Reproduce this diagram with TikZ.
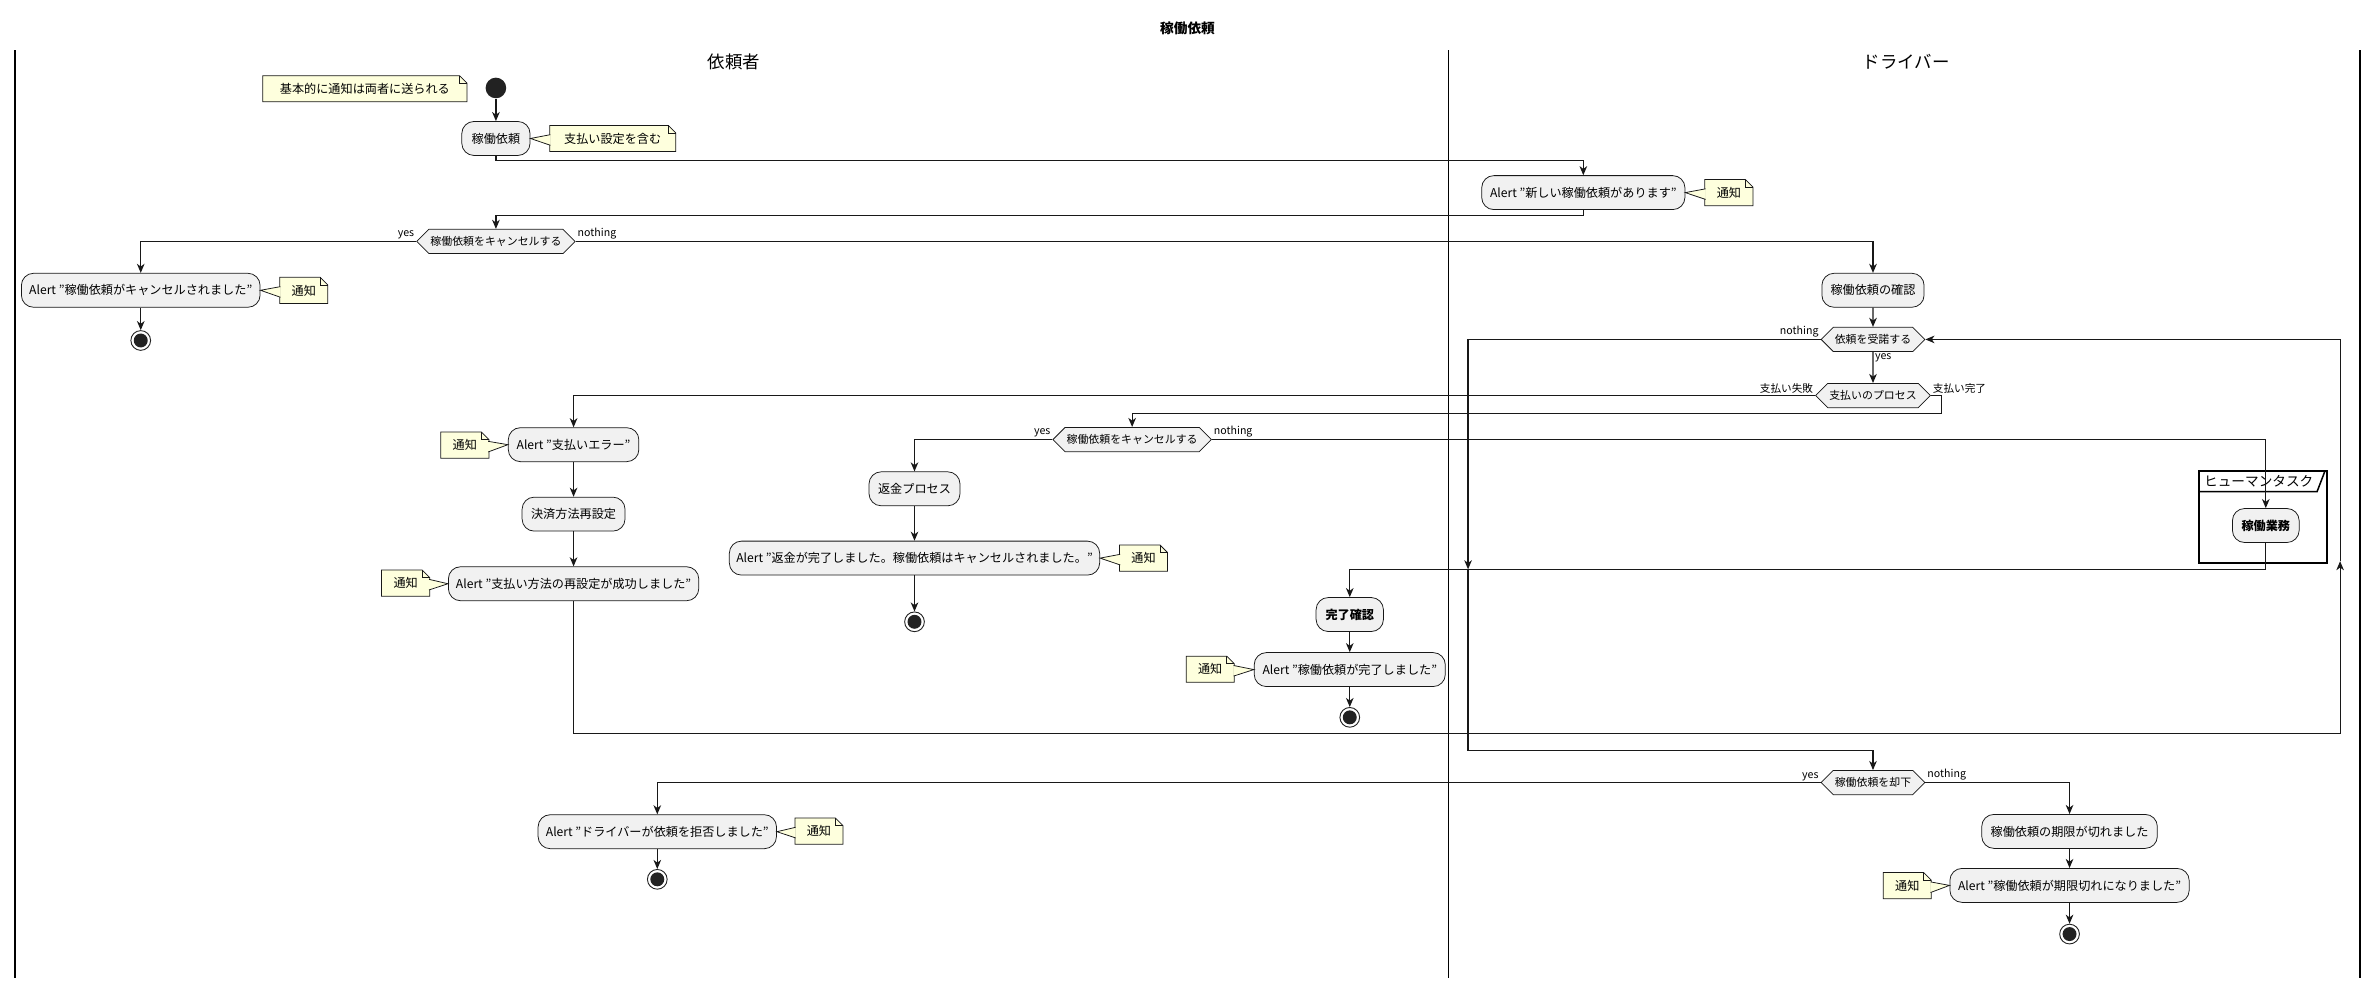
\documentclass[tikz,border=0pt]{standalone}
\usepackage{fontspec}
\setmainfont{Noto Sans CJK JP}
\usetikzlibrary{arrows.meta,shapes.symbols}

\definecolor{actfill}{HTML}{F1F1F1}
\definecolor{actline}{HTML}{181818}
\definecolor{notefill}{HTML}{FEFFDD}
\definecolor{dotfill}{HTML}{222222}

\tikzset{every picture/.style={line width=0.75pt}}
\tikzset{
  act/.style={rectangle, rounded corners=8pt, draw=actline, line width=0.5pt, fill=actfill, minimum height=22.4pt, inner xsep=4pt, font=\fontsize{8}{9}\selectfont},
  actbold/.style={act, font=\bfseries\fontsize{8}{9}\selectfont},
  choice/.style={signal, signal to=east and west, draw=actline, line width=0.5pt, fill=actfill, minimum height=16pt, inner xsep=1pt, inner ysep=1pt, font=\fontsize{7.2}{8}\selectfont},
  note/.style={inner xsep=5pt, minimum height=16.5pt, font=\fontsize{8}{9}\selectfont,
    append after command={\pgfextra{\filldraw[draw=actline, fill=notefill, line width=0.5pt]
      (\tikzlastnode.north west) -- ([xshift=-5pt]\tikzlastnode.north east) -- ([yshift=5pt]\tikzlastnode.north east) -- (\tikzlastnode.south east) -- (\tikzlastnode.south west) -- cycle;
      \draw[actline, line width=0.5pt] ([xshift=-5pt]\tikzlastnode.north east) |- ([yshift=5pt]\tikzlastnode.north east);}}},
  wedge/.style={draw=actline, fill=notefill, line width=0.5pt},
  flow/.style={draw=actline, line width=0.8pt, -{Stealth[length=6pt, width=5pt, inset=1.8pt]}},
  lbl/.style={inner sep=1pt, font=\fontsize{7}{8}\selectfont},
  startdot/.style={circle, fill=dotfill, minimum size=13.6pt, inner sep=0pt},
  stopdot/.style={circle, draw=dotfill, line width=0.6pt, minimum size=13pt, inner sep=0pt, path picture={\fill[dotfill] (path picture bounding box.center) circle (4.6pt);}},
}

\begin{document}
\begin{tikzpicture}[x=1pt,y=1pt,yscale=-1]
\useasboundingbox (0,0) rectangle (1568,651);

% Text Node
\draw (783,19) node (t0) [font=\bfseries\fontsize{9}{10}\selectfont] {稼働依頼};

%Straight Lines
\draw [line width=1pt] (10,33) -- (10,645) ;
%Straight Lines
\draw [line width=1pt] (955,33) -- (955,645) ;
%Straight Lines
\draw [line width=1pt] (1556,33) -- (1556,645) ;

% Text Node
\draw (484,41) node (h1) [font=\fontsize{11.5}{12}\selectfont] {依頼者};
% Text Node
\draw (1257,41) node (h2) [font=\fontsize{11.5}{12}\selectfont] {ドライバー};

%Shape: Partition
\draw [line width=1.2pt] (1450,310.6) rectangle (1534.5,371) ;
\draw [line width=1pt] (1450,324.2) -- (1527.8,324.2) -- (1533,310.6) ;
% Text Node
\draw (1453,317.4) node (p1) [anchor=west, inner sep=0pt, font=\fontsize{9}{10}\selectfont] {ヒューマンタスク};

%Shape: Circle
\draw (327,58) node (s0) [startdot] {};
% Text Node
\draw (240.6,58.5) node (n0) [note, minimum width=134pt] {基本的に通知は両者に送られる};
% Text Node
\draw (327,91.3) node (a1) [act, minimum width=45pt] {稼働依頼};
\draw (404,91.3) node (n1) [note, minimum width=82.4pt] {支払い設定を含む};
% Text Node
\draw (1044,127) node (a2) [act, minimum width=134pt] {Alert "新しい稼働依頼があります"};
\draw (1140,127) node (n2) [note, minimum width=31pt] {通知};
% Text Node
\draw (327,159.2) node (d1) [choice] {稼働依頼をキャンセルする};
% Text Node
\draw (92.8,191.4) node (a3) [act, minimum width=157.4pt] {Alert "稼働依頼がキャンセルされました"};
\draw (200.3,191.5) node (n3) [note, minimum width=31pt] {通知};
\draw (92.8,224.5) node (e1) [stopdot] {};
% Text Node
\draw (1235,191.4) node (a4) [act, minimum width=67.4pt] {稼働依頼の確認};
\draw (1235,223.8) node (d2) [choice] {依頼を受諾する};
\draw (1235,260.8) node (d3) [choice] {支払いのプロセス};
% Text Node
\draw (378.2,293.2) node (a5) [act, minimum width=86.1pt] {Alert "支払いエラー"};
\draw (306.5,293.5) node (n5) [note, minimum width=31pt] {通知};
\draw (378.2,339) node (a7) [act, minimum width=67.9pt] {決済方法再設定};
\draw (378.2,384.9) node (a8) [act, minimum width=165.1pt] {Alert "支払い方法の再設定が成功しました"};
\draw (267.5,384.5) node (n8) [note, minimum width=31pt] {通知};
% Text Node
\draw (746.5,289.8) node (d4) [choice] {稼働依頼をキャンセルする};
\draw (603,322.3) node (a6) [act, minimum width=60pt] {返金プロセス};
\draw (603,368) node (a9) [act, minimum width=244.2pt] {Alert "返金が完了しました。稼働依頼はキャンセルされました。"};
\draw (754,368) node (n9) [note, minimum width=31pt] {通知};
\draw (603,410) node (e2) [stopdot] {};
% Text Node
\draw (1494,346.5) node (a10) [actbold, minimum width=44pt] {稼働業務};
\draw (890,405.2) node (a11) [actbold, minimum width=44.4pt] {完了確認};
\draw (890,441.5) node (a12) [act, minimum width=126pt] {Alert "稼働依頼が完了しました"};
\draw (798,441.3) node (n12) [note, minimum width=31pt] {通知};
\draw (890,473) node (e3) [stopdot] {};
% Text Node
\draw (1235,516) node (d5) [choice] {稼働依頼を却下};
\draw (433.4,548.4) node (a13) [act, minimum width=157.2pt] {Alert "ドライバーが依頼を拒否しました"};
\draw (540,548) node (n13) [note, minimum width=31pt] {通知};
\draw (433.4,579.8) node (e4) [stopdot] {};
\draw (1364.6,548.2) node (a14) [act, minimum width=115.8pt] {稼働依頼の期限が切れました};
\draw (1364.6,583.8) node (a15) [act, minimum width=157.8pt] {Alert "稼働依頼が期限切れになりました"};
\draw (1257.6,584) node (n15) [note, minimum width=31pt] {通知};
\draw (1364.6,615.9) node (e5) [stopdot] {};

%Shape: Note pointers
\draw [wedge] ([xshift=0.5pt,yshift=-2.5pt]n1.west) -- (a1.east) -- ([xshift=0.5pt,yshift=4.5pt]n1.west) ;
\draw [wedge] ([xshift=0.5pt,yshift=-2.5pt]n2.west) -- (a2.east) -- ([xshift=0.5pt,yshift=4.5pt]n2.west) ;
\draw [wedge] ([xshift=0.5pt,yshift=-2.5pt]n3.west) -- (a3.east) -- ([xshift=0.5pt,yshift=4.5pt]n3.west) ;
\draw [wedge] ([xshift=-0.5pt,yshift=-2.5pt]n5.east) -- (a5.west) -- ([xshift=-0.5pt,yshift=4.5pt]n5.east) ;
\draw [wedge] ([xshift=-0.5pt,yshift=-2.5pt]n8.east) -- (a8.west) -- ([xshift=-0.5pt,yshift=4.5pt]n8.east) ;
\draw [wedge] ([xshift=0.5pt,yshift=-2.5pt]n9.west) -- (a9.east) -- ([xshift=0.5pt,yshift=4.5pt]n9.west) ;
\draw [wedge] ([xshift=-0.5pt,yshift=-2.5pt]n12.east) -- (a12.west) -- ([xshift=-0.5pt,yshift=4.5pt]n12.east) ;
\draw [wedge] ([xshift=0.5pt,yshift=-2.5pt]n13.west) -- (a13.east) -- ([xshift=0.5pt,yshift=4.5pt]n13.west) ;
\draw [wedge] ([xshift=-0.5pt,yshift=-2.5pt]n15.east) -- (a15.west) -- ([xshift=-0.5pt,yshift=4.5pt]n15.east) ;

% bends
\coordinate (b1) at (327,106);
\coordinate (b2) at (1044,142);
\coordinate (b3) at (1280,272.6);
\coordinate (b4) at (378.2,483.6);
\coordinate (b5) at (1543,483.6);
\coordinate (b6) at (1543,370);
\coordinate (b7) at (968,375.4);
\coordinate (b8) at (968,494.6);
\coordinate (b9) at (1494,375.4);

%Straight Lines
\draw [flow] (s0) -- (a1) ;
\draw [flow] (a1.south) -- (b1) -| (a2.north) ;
\draw [flow] (a2.south) -- (b2) -| (d1.north) ;
\draw [flow] (d1.west) -| (a3.north) ;
\draw [flow] (d1.east) -| (a4.north) ;
\draw [flow] (a3) -- (e1) ;
\draw [flow] (a4) -- (d2) ;
\draw [flow] (d2) -- (d3) ;
\draw [flow] (d3.west) -| (a5.north) ;
\draw [flow] (d3.east) -| (b3) -| (d4.north) ;
\draw [flow] (a5) -- (a7) ;
\draw [flow] (a7) -- (a8) ;
\draw [flow] (a8.south) -- (b4) -- (b5) -- (b6) ;
\draw [flow] (b6) |- (d2.east) ;
\draw [flow] (d4.west) -| (a6.north) ;
\draw [flow] (a6) -- (a9) ;
\draw [flow] (a9) -- (e2) ;
\draw [flow] (d4.east) -| (a10.north) ;
\draw [flow] (a10.south) -- (b9) -| (a11.north) ;
\draw [flow] (a11) -- (a12) ;
\draw [flow] (a12) -- (e3) ;
\draw [flow] (d2.west) -| (b7) ;
\draw [flow] (b7) -- (b8) -| (d5.north) ;
\draw [flow] (d5.west) -| (a13.north) ;
\draw [flow] (a13) -- (e4) ;
\draw [flow] (d5.east) -| (a14.north) ;
\draw [flow] (a14) -- (a15) ;
\draw [flow] (a15) -- (e5) ;

% Text Node
\draw (d1.west) node (l1) [lbl, anchor=south east] {yes};
\draw (d1.east) node (l2) [lbl, anchor=south west] {nothing};
\draw (d2.west) node (l3) [lbl, anchor=south east] {nothing};
\draw (d2.south) node (l4) [lbl, anchor=north west] {yes};
\draw (d3.west) node (l5) [lbl, anchor=south east] {支払い失敗};
\draw (d3.east) node (l6) [lbl, anchor=south west] {支払い完了};
\draw (d4.west) node (l7) [lbl, anchor=south east] {yes};
\draw (d4.east) node (l8) [lbl, anchor=south west] {nothing};
\draw (d5.west) node (l9) [lbl, anchor=south east] {yes};
\draw (d5.east) node (l10) [lbl, anchor=south west] {nothing};

\end{tikzpicture}
\end{document}
